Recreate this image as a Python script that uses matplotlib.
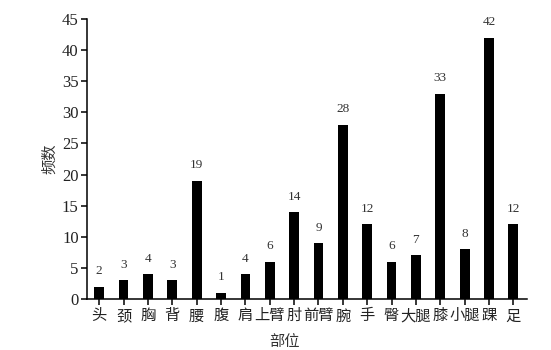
import matplotlib.pyplot as plt
import numpy as np

# body parts and counts
parts = ["头", "颈", "胸", "背", "腰", "腹", "肩", "上臂", "肘", "前臂",
         "腕", "手", "臀", "大腿", "膝", "小腿", "踝", "足"]
counts = [2, 3, 4, 3, 19, 1, 4, 6, 14, 9, 28, 12, 6, 7, 33, 8, 42, 12]
yticks = [0, 5, 10, 15, 20, 25, 30, 35, 40, 45]

serif = ["Liberation Serif", "DejaVu Serif"]
cjk = ["Noto Sans CJK SC", "DejaVu Sans"]

fig = plt.figure(figsize=(5.51, 3.5), dpi=100)
ax = fig.add_axes([0.158, 0.1457, 0.798, 0.80])

x = np.arange(len(parts))
ax.bar(x, counts, width=0.4, color="black")

for xi, c in zip(x, counts):
    ax.text(xi, c + 1.5, str(c), ha="center", va="bottom",
            fontsize=9.5, family=serif, color="#333333")

ax.set_xlim(-0.5, 17.55)
ax.set_ylim(0, 45)
ax.set_yticks(yticks)
ax.set_yticklabels([str(t) for t in yticks], family=serif, fontsize=12, color="#222222")
ax.set_xticks(x)
ax.set_xticklabels(parts, family=cjk, fontsize=11, color="#222222")

for s in ["top", "right"]:
    ax.spines[s].set_visible(False)
for s in ["left", "bottom"]:
    ax.spines[s].set_linewidth(1.1)
ax.tick_params(axis="both", direction="out", length=4, width=1.1, pad=2)

ax.set_ylabel("频数", family=cjk, fontsize=11, color="#333333")
ax.yaxis.set_label_coords(-0.065, 0.5)
ax.set_xlabel("部位", family=cjk, fontsize=11, color="#333333")
ax.xaxis.set_label_coords(0.45, -0.12)

fig.savefig("out.png", dpi=100)
